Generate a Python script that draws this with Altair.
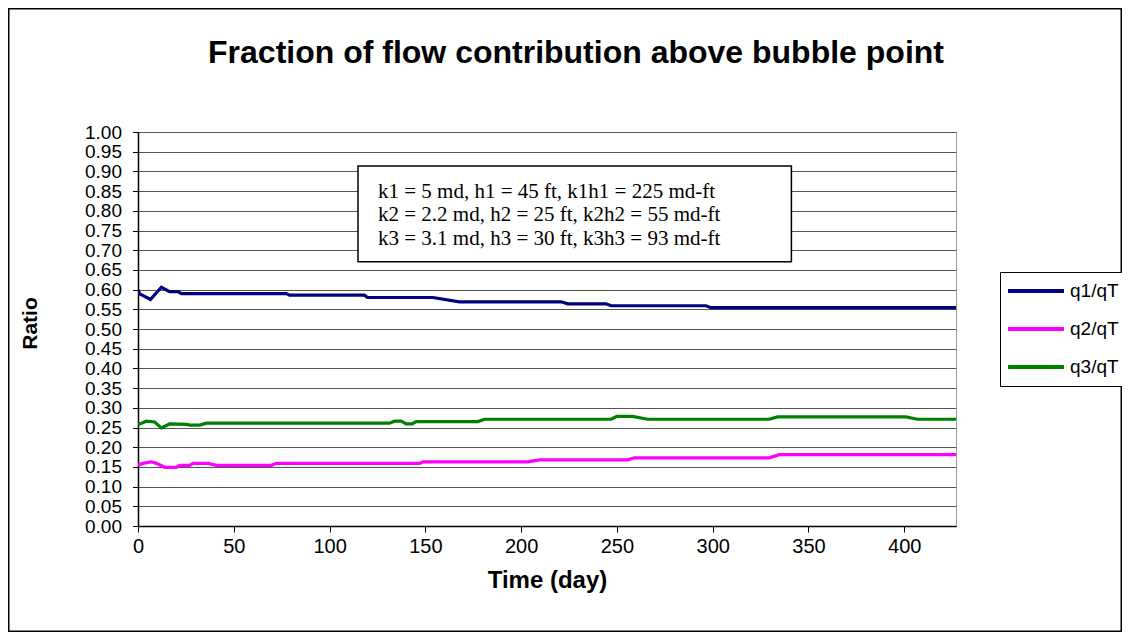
import altair as alt
import pandas as pd

# ---------------- data ----------------
series_names = ["q1/qT", "q2/qT", "q3/qT"]
series_colors = ["#000080", "#FF00FF", "#008000"]

q1_days = [0, 0.9, 6.5, 12.2, 16.5, 20.9, 22.6, 77.4, 79.1, 118.2, 119.8, 153.9, 167.8,
           220.9, 224.3, 244.3, 247.0, 296.5, 299.1, 427]
q1_vals = [0.599, 0.589, 0.575, 0.606, 0.595, 0.595, 0.590, 0.590, 0.586, 0.586, 0.580, 0.580,
           0.569, 0.569, 0.564, 0.564, 0.559, 0.559, 0.554, 0.554]

q2_days = [0, 2.6, 7.0, 9.6, 13.9, 20.0, 21.8, 27.0, 28.7, 36.5, 40.9, 69.6, 72.2, 147.0, 148.7,
           203.4, 209.5, 255.6, 259.1, 329.5, 334.7, 427]
q2_vals = [0.155, 0.159, 0.163, 0.159, 0.149, 0.149, 0.154, 0.154, 0.159, 0.159, 0.154, 0.154,
           0.159, 0.159, 0.163, 0.163, 0.168, 0.168, 0.173, 0.173, 0.181, 0.181]

q3_days = [0, 1.8, 4.4, 8.7, 12.2, 16.5, 25.2, 27.0, 32.2, 35.7, 131.3, 133.9, 137.4, 140.0,
           143.1, 145.2, 177.4, 180.9, 247.0, 249.9, 258.2, 266.0, 329.5, 333.9, 400.8, 406.9, 427]
q3_vals = [0.258, 0.261, 0.266, 0.264, 0.249, 0.259, 0.258, 0.256, 0.256, 0.261, 0.261, 0.266,
           0.266, 0.259, 0.259, 0.265, 0.265, 0.271, 0.271, 0.278, 0.278, 0.271, 0.271, 0.277,
           0.277, 0.271, 0.271]

x_ticks = [0, 50, 100, 150, 200, 250, 300, 350, 400]
y_ticks = [0.00, 0.05, 0.10, 0.15, 0.20, 0.25, 0.30, 0.35, 0.40, 0.45, 0.50,
           0.55, 0.60, 0.65, 0.70, 0.75, 0.80, 0.85, 0.90, 0.95, 1.00]

chart_title = "Fraction of flow contribution above bubble point"
x_title = "Time (day)"
y_title = "Ratio"
annotation_lines = [
    "k1 = 5 md, h1 = 45 ft, k1h1 = 225 md-ft",
    "k2 = 2.2 md, h2 = 25 ft, k2h2 = 55 md-ft",
    "k3 = 3.1 md, h3 = 30 ft, k3h3 = 93 md-ft",
]

rows = []
for name, days, vals in zip(series_names, [q1_days, q2_days, q3_days], [q1_vals, q2_vals, q3_vals]):
    for d, v in zip(days, vals):
        rows.append({"series": name, "day": d, "value": v})
df = pd.DataFrame(rows)

# ---------------- layout ----------------
W, H = 818, 394
PL, PT, PR, PB = 130, 124, 166, 106
SANS = "Liberation Sans"
SERIF = "Liberation Serif"

one = pd.DataFrame({"k": [0]})

border = alt.Chart(one).mark_rect(fill="white", fillOpacity=0, stroke="black", strokeWidth=1.5).encode(
    x=alt.value(-PL + 0.75), x2=alt.value(W + PR - 0.75),
    y=alt.value(-PT + 0.75), y2=alt.value(H + PB - 0.75),
)

title = alt.Chart(pd.DataFrame({"t": [chart_title]})).mark_text(
    font=SANS, fontSize=32, fontWeight="bold", color="black", align="center", baseline="middle"
).encode(x=alt.value(438), y=alt.value(-79), text="t:N")

lines = alt.Chart(df).mark_line(strokeWidth=3.2, clip=True).encode(
    x=alt.X("day:Q", scale=alt.Scale(domain=[0, 427], nice=False, zero=False),
            axis=alt.Axis(values=x_ticks, title=x_title, grid=False, domainColor="black", domainWidth=1.5,
                          tickColor="black", tickSize=6, labelFont=SANS, labelFontSize=20, labelColor="black",
                          labelPadding=4, labelFlush=False, labelOverlap=False,
                          titleFont=SANS, titleFontSize=24, titleFontWeight="bold", titleColor="black",
                          titlePadding=12)),
    y=alt.Y("value:Q", scale=alt.Scale(domain=[0, 1], nice=False),
            axis=alt.Axis(values=y_ticks, format=".2f", title=y_title, grid=True, gridColor="#555555",
                          gridWidth=1, gridOpacity=1, domainColor="black", domainWidth=1.5,
                          tickColor="black", tickSize=5.5, labelFont=SANS, labelFontSize=19,
                          labelColor="black", labelPadding=11, labelOverlap=False, labelFlush=False,
                          titleFont=SANS, titleFontSize=21, titleFontWeight="bold", titleColor="black",
                          titleX=-108, titleY=191, titleBaseline="middle", titleAngle=270)),
    color=alt.Color("series:N", scale=alt.Scale(domain=series_names, range=series_colors),
                    legend=alt.Legend(title=None, orient="none", legendX=862, legendY=140,
                                      direction="vertical", symbolType="stroke", symbolSize=3136,
                                      symbolStrokeWidth=4, symbolOpacity=1, labelFont=SANS,
                                      labelFontSize=19, labelColor="black", labelOffset=4,
                                      strokeColor="black", fillColor="white", padding=6,
                                      clipHeight=26, rowPadding=12)),
)

box = alt.Chart(one).mark_rect(fill="white", stroke="black", strokeWidth=1.5).encode(
    x=alt.value(220), x2=alt.value(653.4), y=alt.value(34), y2=alt.value(129.7)
)

note = alt.Chart(pd.DataFrame({"t": ["\n".join(annotation_lines)]})).mark_text(
    font=SERIF, fontSize=21, color="black", align="left", baseline="middle", lineBreak="\n", lineHeight=23.8
).encode(x=alt.value(240), y=alt.value(59.5), text="t:N")

chart = alt.layer(border, box, note, lines, title).properties(
    width=W, height=H,
    autosize=alt.AutoSizeParams(type="none"),
    padding={"left": PL, "top": PT, "right": PR, "bottom": PB},
    background="white",
).configure_view(stroke="#999999", strokeWidth=1)

chart.save("out.html", embed_options={"renderer": "svg", "actions": False})
